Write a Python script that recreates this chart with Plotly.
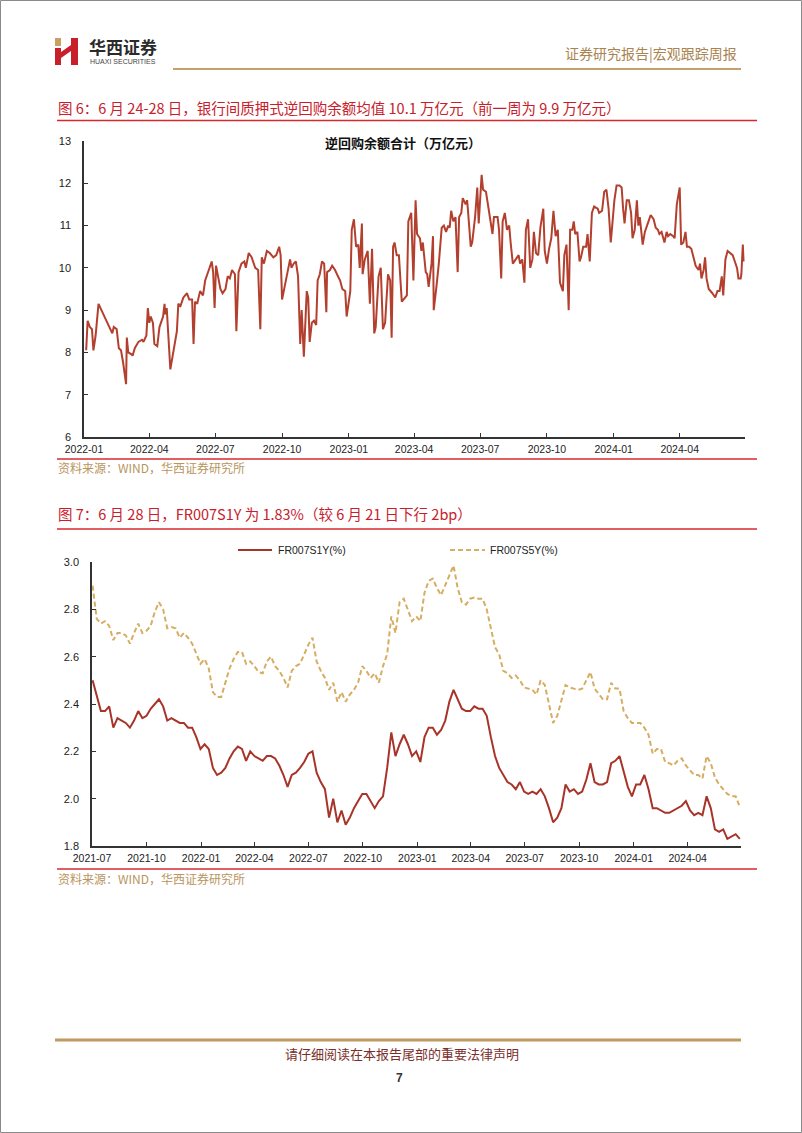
import plotly.graph_objects as go
import pandas as pd

W, H = 802, 1133

# ---------------- Chart 1 data: 逆回购余额合计（万亿元） ----------------
dates1 = [
    "2022-01-04", "2022-01-06", "2022-01-09", "2022-01-12", "2022-01-14", "2022-01-17", "2022-01-21",
    "2022-02-09", "2022-02-11", "2022-02-15", "2022-02-18", "2022-02-21", "2022-02-24", "2022-02-28",
    "2022-03-01", "2022-03-03", "2022-03-08", "2022-03-09", "2022-03-12", "2022-03-17", "2022-03-22",
    "2022-03-24", "2022-03-28", "2022-03-30",
    "2022-04-01", "2022-04-03", "2022-04-06", "2022-04-08", "2022-04-12", "2022-04-15", "2022-04-20",
    "2022-04-22", "2022-04-23", "2022-04-25", "2022-04-30",
    "2022-05-04", "2022-05-09", "2022-05-11", "2022-05-14", "2022-05-18", "2022-05-23", "2022-05-26",
    "2022-05-30", "2022-06-01", "2022-06-03", "2022-06-06", "2022-06-10", "2022-06-14", "2022-06-17",
    "2022-06-22", "2022-06-26", "2022-06-28", "2022-06-30",
    "2022-07-02", "2022-07-05", "2022-07-08", "2022-07-11", "2022-07-15", "2022-07-18", "2022-07-21",
    "2022-07-24", "2022-07-28", "2022-07-30", "2022-08-02", "2022-08-06", "2022-08-10", "2022-08-12",
    "2022-08-16", "2022-08-20", "2022-08-25", "2022-08-29", "2022-09-01", "2022-09-03", "2022-09-06",
    "2022-09-10", "2022-09-14", "2022-09-19", "2022-09-23", "2022-09-27", "2022-09-29",
    "2022-10-01", "2022-10-05", "2022-10-10", "2022-10-12", "2022-10-14", "2022-10-17", "2022-10-20",
    "2022-10-23", "2022-10-26", "2022-10-28", "2022-10-31", "2022-11-04", "2022-11-06", "2022-11-08",
    "2022-11-11", "2022-11-14", "2022-11-17", "2022-11-19", "2022-11-22", "2022-11-25", "2022-11-28",
    "2022-12-01", "2022-12-02", "2022-12-06", "2022-12-09", "2022-12-13", "2022-12-17", "2022-12-20",
    "2022-12-23", "2022-12-27", "2022-12-29",
    "2023-01-03", "2023-01-05", "2023-01-08", "2023-01-11", "2023-01-14", "2023-01-16", "2023-01-19",
    "2023-01-20", "2023-01-23", "2023-01-27", "2023-01-30", "2023-02-02", "2023-02-05", "2023-02-07",
    "2023-02-11", "2023-02-14", "2023-02-17", "2023-02-20", "2023-02-22", "2023-02-24", "2023-02-27",
    "2023-03-01", "2023-03-03", "2023-03-05", "2023-03-08", "2023-03-11", "2023-03-15", "2023-03-22",
    "2023-03-24", "2023-03-28", "2023-03-31",
    "2023-04-03", "2023-04-05", "2023-04-09", "2023-04-11", "2023-04-13", "2023-04-17", "2023-04-19",
    "2023-04-21", "2023-04-25", "2023-04-27", "2023-04-28", "2023-05-02", "2023-05-05", "2023-05-09",
    "2023-05-12", "2023-05-15", "2023-05-18", "2023-05-20", "2023-05-22", "2023-05-25", "2023-05-28",
    "2023-05-31", "2023-06-02", "2023-06-05", "2023-06-07", "2023-06-11", "2023-06-13", "2023-06-14",
    "2023-06-16", "2023-06-18", "2023-06-20", "2023-06-24", "2023-06-27", "2023-06-29",
    "2023-07-03", "2023-07-05", "2023-07-09", "2023-07-11", "2023-07-13", "2023-07-18", "2023-07-20",
    "2023-07-25", "2023-07-27", "2023-07-30", "2023-08-01", "2023-08-04", "2023-08-07", "2023-08-10",
    "2023-08-12", "2023-08-15", "2023-08-19", "2023-08-23", "2023-08-25", "2023-08-28", "2023-08-31",
    "2023-09-02", "2023-09-05", "2023-09-08", "2023-09-11", "2023-09-13", "2023-09-16", "2023-09-19",
    "2023-09-22", "2023-09-26", "2023-09-28",
    "2023-10-01", "2023-10-04", "2023-10-07", "2023-10-10", "2023-10-13", "2023-10-16", "2023-10-19",
    "2023-10-23", "2023-10-25", "2023-10-28", "2023-10-31", "2023-11-02", "2023-11-05", "2023-11-07",
    "2023-11-09", "2023-11-12", "2023-11-15", "2023-11-17", "2023-11-20", "2023-11-24", "2023-11-26",
    "2023-11-29", "2023-12-02", "2023-12-05", "2023-12-10", "2023-12-12", "2023-12-16", "2023-12-19",
    "2023-12-22", "2023-12-25", "2023-12-28",
    "2024-01-02", "2024-01-05", "2024-01-09", "2024-01-12", "2024-01-14", "2024-01-16", "2024-01-19",
    "2024-01-22", "2024-01-25", "2024-01-27", "2024-01-30", "2024-02-02", "2024-02-04", "2024-02-06",
    "2024-02-10", "2024-02-13", "2024-02-18", "2024-02-21", "2024-02-25", "2024-02-28", "2024-03-02",
    "2024-03-04", "2024-03-07", "2024-03-09", "2024-03-11", "2024-03-14", "2024-03-16", "2024-03-19",
    "2024-03-23", "2024-03-25", "2024-03-27", "2024-03-28",
    "2024-04-01", "2024-04-03", "2024-04-06", "2024-04-09", "2024-04-11", "2024-04-14", "2024-04-17",
    "2024-04-20", "2024-04-23", "2024-04-27", "2024-04-29", "2024-05-01", "2024-05-04", "2024-05-06",
    "2024-05-08", "2024-05-11", "2024-05-14", "2024-05-16", "2024-05-20", "2024-05-23", "2024-05-26",
    "2024-05-29", "2024-05-31", "2024-06-03", "2024-06-06", "2024-06-09", "2024-06-13", "2024-06-16",
    "2024-06-19", "2024-06-21", "2024-06-24", "2024-06-25", "2024-06-27", "2024-06-28",
]
repo_balance = [
    8.05, 8.75, 8.6, 8.55, 8.05, 8.4, 9.15,
    8.45, 8.6, 8.55, 8.1, 8.05, 7.75, 7.25,
    8.35, 8.0, 7.95, 7.92, 8.1, 8.25, 8.3,
    8.25, 8.4, 9.05,
    8.7, 8.85, 8.7, 8.2, 8.15, 8.6, 8.85,
    9.15, 8.9, 9.05, 7.6,
    8.0, 8.5, 9.15, 9.1, 9.3, 9.4, 9.25,
    9.25, 8.2, 9.2, 9.15, 9.45, 9.35, 9.7,
    9.95, 10.15, 9.9, 9.05,
    10.05, 9.8, 9.5, 9.4, 9.5, 9.8, 9.75,
    9.95, 9.85, 8.5, 9.9, 10.1, 10.15, 10.0,
    10.35, 10.25, 10.0, 9.95, 8.55, 10.25, 10.1,
    10.4, 10.35, 10.25, 10.3, 10.5, 10.3,
    9.25, 9.6, 10.05, 10.2, 10.0, 10.1, 10.15,
    9.8, 8.2, 9.0, 7.9, 9.45, 9.3, 8.25,
    8.7, 8.75, 8.65, 9.7, 9.85, 10.15, 10.1,
    8.95, 9.9, 9.95, 10.05, 9.95, 9.8, 9.7,
    9.5, 9.45, 8.85,
    9.45, 10.9, 11.15, 10.5, 10.55, 10.0, 11.05,
    9.85, 10.2, 10.4, 9.15, 10.45, 8.45, 8.6,
    9.8, 10.0, 8.55, 8.7, 9.3, 9.85, 9.7,
    8.35, 10.5, 10.6, 10.3, 10.3, 9.2, 9.35,
    11.1, 11.3, 9.7,
    11.6, 10.8, 10.7, 10.4, 10.6, 9.9, 9.85,
    9.55, 10.1, 10.75, 9.0, 9.6, 10.1, 10.95,
    11.0, 10.85, 11.0, 10.95, 11.35, 11.1, 11.2,
    9.9, 11.2, 11.3, 11.65, 11.5, 11.6, 11.4,
    11.0, 10.5, 10.6, 11.2, 11.9, 11.05,
    12.2, 11.85, 11.8, 11.6, 11.35, 10.8, 11.2,
    11.2, 10.9, 9.75, 11.1, 11.3, 10.9, 11.0,
    10.6, 10.1, 10.2, 10.3, 10.1, 10.2, 9.65,
    10.9, 11.15, 10.0, 10.2, 10.85, 10.35, 10.3,
    10.95, 11.4, 10.4,
    10.1, 10.45, 10.7, 11.35, 10.75, 10.9, 9.65,
    9.45, 10.3, 10.55, 9.0, 10.9, 10.9, 11.1,
    10.8, 10.85, 10.15, 10.25, 10.5, 10.5, 10.8,
    10.15, 11.3, 11.45, 11.4, 11.3, 11.35, 11.8,
    11.85, 11.4, 10.6,
    11.6, 11.95, 11.95, 11.9, 11.4, 11.05, 11.6,
    11.6, 11.3, 10.7, 10.9, 11.6, 11.0, 11.2,
    10.55, 10.85, 11.1, 11.25, 11.15, 10.95, 10.9,
    10.8, 10.85, 10.75, 10.6, 10.85, 10.75, 10.8,
    10.75, 10.7, 11.4, 11.5,
    11.9, 10.55, 10.6, 10.85, 10.5, 10.5, 10.45,
    10.25, 10.05, 9.95, 10.1, 9.75, 9.95, 10.25,
    9.75, 9.5, 9.45, 9.4, 9.3, 9.45, 9.45,
    9.8, 9.35, 10.2, 10.4, 10.35, 10.3, 10.15,
    10.0, 9.75, 9.75, 9.85, 10.55, 10.15,
]

# ---------------- Chart 2 data: FR007 swaps, weekly readings ----------------
dates2 = pd.date_range("2021-07-02", "2024-06-28", freq="7D")
fr007s1y = [
    2.50, 2.43, 2.37, 2.37, 2.39, 2.30, 2.34, 2.33, 2.32, 2.30,
    2.33, 2.37, 2.34, 2.35, 2.38, 2.40, 2.42, 2.39, 2.33, 2.34,
    2.33, 2.32, 2.32, 2.30, 2.30, 2.26, 2.21, 2.23, 2.21, 2.13,
    2.10, 2.11, 2.13, 2.17, 2.20, 2.22, 2.21, 2.16, 2.20, 2.18,
    2.17, 2.16, 2.18, 2.18, 2.17, 2.14, 2.10, 2.05, 2.10, 2.11,
    2.13, 2.155,
    2.19, 2.20, 2.11, 2.07, 2.04, 1.92, 2.00, 1.90,
    1.95, 1.89, 1.92, 1.96, 1.99, 2.02, 2.02, 1.99, 1.96, 1.99,
    2.01, 2.13, 2.28, 2.18, 2.23, 2.27, 2.23, 2.18, 2.20, 2.155,
    2.26, 2.30, 2.30, 2.27, 2.29, 2.33, 2.41, 2.46, 2.42, 2.38,
    2.37, 2.37, 2.39, 2.38, 2.38, 2.35, 2.26, 2.18, 2.13, 2.10,
    2.07, 2.06, 2.04, 2.07,
    2.03,
    2.02, 2.03, 2.02, 2.04, 2.01,
    1.96, 1.90, 1.92, 1.96, 2.06, 2.03, 2.04, 2.02, 2.03, 2.08,
    2.15, 2.07, 2.06, 2.06, 2.07, 2.15, 2.16, 2.18, 2.11, 2.05,
    2.01, 2.06, 2.06, 2.10, 2.04, 1.96, 1.96, 1.95, 1.94, 1.94,
    1.95, 1.96, 1.97, 1.99, 1.95, 1.93, 1.94, 1.93, 2.01, 1.96,
    1.87, 1.86, 1.87, 1.83, 1.84, 1.85, 1.83,
]
fr007s5y = [
    2.90, 2.76, 2.74, 2.75, 2.73, 2.67, 2.70, 2.70, 2.69, 2.655,
    2.70, 2.74, 2.70, 2.71, 2.73, 2.79, 2.83, 2.80, 2.72, 2.725,
    2.72, 2.68, 2.70, 2.68, 2.655, 2.61, 2.57, 2.59, 2.55, 2.45,
    2.43, 2.43, 2.49, 2.55, 2.59, 2.62, 2.62, 2.57, 2.58, 2.56,
    2.535, 2.53, 2.58, 2.60, 2.56, 2.54, 2.51, 2.47, 2.54, 2.56,
    2.57, 2.61,
    2.65, 2.68, 2.58, 2.54, 2.51, 2.46, 2.49, 2.41,
    2.45, 2.41, 2.44, 2.46, 2.49, 2.56, 2.54, 2.51, 2.53, 2.49,
    2.56, 2.61, 2.77, 2.70, 2.83, 2.845, 2.80, 2.75, 2.77, 2.75,
    2.87, 2.92, 2.93, 2.89, 2.86, 2.90, 2.94, 2.985, 2.89, 2.83,
    2.82, 2.845, 2.85, 2.845, 2.845, 2.80, 2.72, 2.64, 2.61, 2.54,
    2.53, 2.51, 2.52, 2.50,
    2.47,
    2.465, 2.46, 2.44, 2.50, 2.48,
    2.40, 2.32, 2.35, 2.41, 2.48, 2.47, 2.465, 2.46, 2.465, 2.50,
    2.535, 2.465, 2.44, 2.42, 2.42, 2.49, 2.465, 2.465, 2.37, 2.34,
    2.32, 2.32, 2.32, 2.30, 2.27, 2.19, 2.21, 2.21, 2.155, 2.15,
    2.14, 2.16, 2.17, 2.14, 2.12, 2.10, 2.10, 2.085, 2.18, 2.15,
    2.09, 2.06, 2.04, 2.02, 2.01, 2.01, 1.965,
]

# ---------------- Text ----------------
title6 = "图 6：6 月 24-28 日，银行间质押式逆回购余额均值 10.1 万亿元（前一周为 9.9 万亿元）"
title7 = "图 7：6 月 28 日，FR007S1Y 为 1.83%（较 6 月 21 日下行 2bp）"
chart1_title = "<b>逆回购余额合计（万亿元）</b>"
source_text = "资料来源：WIND，华西证券研究所"
header_right = "证券研究报告|宏观跟踪周报"
footer_text = "请仔细阅读在本报告尾部的重要法律声明"
page_no = "7"
name_s1y = "FR007S1Y(%)"
name_s5y = "FR007S5Y(%)"

FONT = "Liberation Sans, Arial, Noto Sans CJK SC, sans-serif"
CJK = "Noto Sans CJK SC, Liberation Sans, sans-serif"

RED1 = "#B3402E"
RED2 = "#A83429"
GOLD = "#D6AD63"
DASH = "5px,3px"


def px(x):
    return x / W


def py(y):
    return 1 - y / H


fig = go.Figure()

fig.add_trace(go.Scatter(
    x=dates1, y=repo_balance, mode="lines", showlegend=False,
    line=dict(color=RED1, width=2), xaxis="x", yaxis="y",
))
fig.add_trace(go.Scatter(
    x=dates2, y=fr007s1y, mode="lines", name=name_s1y, showlegend=False,
    line=dict(color=RED2, width=2), xaxis="x2", yaxis="y2",
))
fig.add_trace(go.Scatter(
    x=dates2, y=fr007s5y, mode="lines", name=name_s5y, showlegend=False,
    line=dict(color=GOLD, width=2, dash=DASH), xaxis="x2", yaxis="y2",
))

axis_common = dict(
    showline=True, linecolor="#333333", linewidth=1.5, ticks="inside", ticklen=4,
    tickwidth=1, tickcolor="#333333", showgrid=False, zeroline=False, automargin=False,
)
xfont = dict(family=FONT, size=10.5, color="#222222")
yfont = dict(family=FONT, size=11, color="#222222")

fig.update_layout(
    width=W, height=H, margin=dict(l=0, r=0, t=0, b=0, autoexpand=False),
    paper_bgcolor="white", plot_bgcolor="white", showlegend=False,
    xaxis=dict(axis_common, type="date", range=["2022-01-01", "2024-06-30"],
               domain=[px(84), px(745)], anchor="y", dtick="M3", tick0="2022-01-01",
               tickformat="%Y-%m", ticklabelstandoff=2, tickfont=xfont),
    yaxis=dict(axis_common, range=[6, 13], domain=[py(437), py(141)], anchor="x",
               dtick=1, ticklabelstandoff=9, tickfont=yfont),
    xaxis2=dict(axis_common, type="date", range=["2021-07-01", "2024-06-30"],
                domain=[px(92), px(741)], anchor="y2", dtick="M3", tick0="2021-07-01",
                tickformat="%Y-%m", ticklabelstandoff=2, tickfont=xfont),
    yaxis2=dict(axis_common, range=[1.8, 3.0], domain=[py(846), py(562)], anchor="x2",
                dtick=0.2, tick0=1.8, tickformat=".1f", ticklabelstandoff=9, tickfont=yfont),
)

ann = []


def text(x, y, s, size, color, xanchor="left", family=CJK, yanchor="middle"):
    ann.append(dict(x=px(x), y=py(y), xref="paper", yref="paper", text=s, showarrow=False,
                    xanchor=xanchor, yanchor=yanchor,
                    font=dict(family=family, size=size, color=color)))


text(87, 47, "<b>华西证券</b>", 17, "#2a2a2a")
text(88, 61, "HUAXI SECURITIES", 7, "#444444", family=FONT)
text(739, 53, header_right, 14, "#A98350", xanchor="right")
text(56, 108, title6, 14.5, "#C8202B")
text(403, 143, chart1_title, 13, "#111111", xanchor="center")
text(56, 467, source_text, 12, "#B8955E")
text(56, 514, title7, 14.5, "#C8202B")
text(56, 878, source_text, 12, "#B8955E")
text(402, 1053, footer_text, 13, "#7A2E2A", xanchor="center")
text(399, 1078, "<b>" + page_no + "</b>", 12, "#333333", xanchor="center", family=FONT)
# legend labels
text(276, 550, name_s1y, 10.5, "#222222", family=FONT)
text(488, 550, name_s5y, 10.5, "#222222", family=FONT)

shapes = []


def hline(x0, x1, y, color, width, dash="solid"):
    shapes.append(dict(type="line", xref="paper", yref="paper", x0=px(x0), x1=px(x1),
                       y0=py(y), y1=py(y), line=dict(color=color, width=width, dash=dash)))


def rect(x0, y0, x1, y1, color):
    shapes.append(dict(type="rect", xref="paper", yref="paper", x0=px(x0), x1=px(x1),
                       y0=py(y1), y1=py(y0), line=dict(width=0), fillcolor=color))


hline(173, 741, 69, "#C4A06A", 2)
hline(57, 757, 120.5, "#D7282F", 1.5)
hline(57, 757, 459, "#D7282F", 1.5)
hline(57, 757, 529, "#D7282F", 1.5)
hline(57, 757, 869, "#D7282F", 1.5)
hline(55, 741, 1040, "#C09A5F", 3)
# legend samples
hline(238, 272, 550, RED2, 2)
hline(450, 485, 550, GOLD, 2, DASH)

# logo blocks
rect(55, 38, 61, 46, "#C9A063")
rect(55, 48, 61, 65, "#C8202B")
rect(71, 38, 78, 65, "#C8202B")
shapes.append(dict(type="path", xref="paper", yref="paper",
                   path="M {} {} L {} {} L {} {} L {} {} Z".format(
                       px(61), py(52), px(71), py(45), px(71), py(51), px(61), py(58)),
                   line=dict(width=0), fillcolor="#C8202B"))

# page border
shapes.append(dict(type="rect", xref="paper", yref="paper", x0=px(0.5), x1=px(801.5),
                   y0=py(1132.5), y1=py(0.5), line=dict(color="#8a8a8a", width=1)))

fig.update_layout(annotations=ann, shapes=shapes)

fig.write_html("out.html", config={"displayModeBar": False},
               post_script="document.body.style.margin='0';document.body.style.overflow='hidden';")
